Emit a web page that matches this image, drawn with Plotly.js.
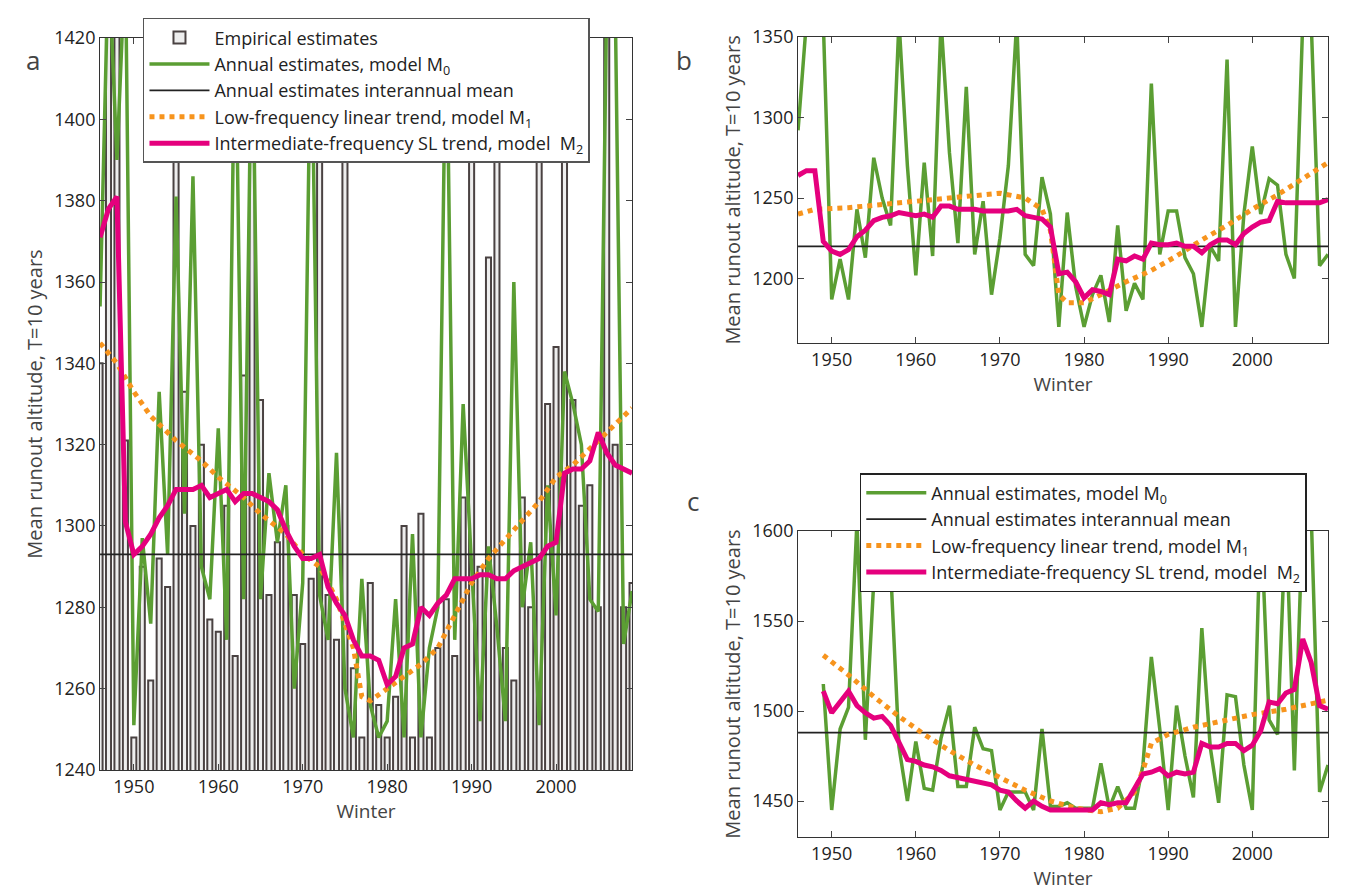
<!DOCTYPE html>
<html>
<head>
<meta charset="utf-8">
<script src="https://cdn.plot.ly/plotly-3.0.1.min.js"></script>
<style>body{margin:0;background:#fff}#myDiv{width:1354px;height:895px}</style>
</head>
<body>
<div id="myDiv"></div>
<script>
var years = [];
for (var y = 1946; y <= 2009; y++) years.push(y);
var yearsC = years.slice(3);

// panel a
var empA = [1340,1430,1430,1321,1248,1290,1262,1292,1285,1390,1333,1300,1320,1277,1274,1305,1268,1337,1430,1331,
  1283,1296,1300,1283,1271,1287,1430,1283,1272,1430,1265,1248,1286,1256,1248,1258,1300,1248,1303,1248,
  1270,1282,1268,1307,1430,1290,1366,1430,1270,1262,1307,1280,1430,1330,1344,1430,1331,1305,1310,1280,
  1430,1320,1280,1286];
var m0A = [1354,1440,1390,1440,1251,1297,1276,1333,1293,1381,1303,1386,1290,1282,1324,1272,1430,1282,1430,1282,
  1313,1296,1310,1260,1286,1430,1283,1272,1318,1260,1248,1287,1256,1248,1252,1282,1248,1298,1248,1270,
  1280,1430,1272,1330,1290,1252,1295,1275,1252,1360,1280,1296,1251,1310,1278,1338,1330,1320,1282,1279,
  1430,1430,1271,1284];
var m2A = [1371,1378,1381,1301,1293,1295,1298,1302,1305,1309,1309,1309,1310,1307,1308,1309,1306,1308,1308,1307,
  1306,1304,1299,1295,1292,1292,1293,1285,1281,1278,1272,1268,1268,1267,1261,1263,1270,1271,1280,1278,
  1281,1283,1287,1287,1287,1288,1288,1287,1287,1289,1290,1291,1292,1295,1296,1313,1314,1314,1316,1323,
  1318,1315,1314,1313];
var m1AYears = [1946,1948,1950,1952,1955,1958,1960,1963,1965,1968,1970,1972,1974,1976,1977,1978,1980,1982,1984,1986,1988,1990,1992,1995,1998,2000,2002,2005,2009];
var m1A = [1345,1340,1333,1327,1321,1316,1312,1307,1303,1298,1293,1290,1282,1270,1258,1257,1260,1263,1266,1270,1278,1286,1292,1299,1306,1312,1315,1321,1329];
var meanA = 1293;

// panel b
var m0B = [1292,1360,1360,1360,1187,1212,1187,1243,1213,1275,1250,1233,1360,1270,1202,1272,1214,1360,1278,1222,
  1319,1215,1248,1190,1225,1270,1360,1215,1208,1263,1240,1170,1241,1195,1170,1190,1202,1173,1233,1180,
  1197,1187,1321,1215,1242,1242,1213,1203,1170,1220,1211,1336,1170,1240,1282,1240,1262,1258,1215,1200,
  1360,1360,1208,1215];
var m2B = [1264,1267,1267,1223,1217,1215,1218,1226,1230,1236,1238,1239,1241,1240,1239,1240,1238,1245,1245,1243,
  1243,1243,1242,1242,1242,1242,1243,1239,1238,1237,1232,1203,1204,1198,1188,1193,1192,1190,1212,1211,
  1214,1212,1222,1221,1221,1222,1220,1220,1216,1221,1224,1224,1221,1228,1232,1235,1236,1248,1247,1247,
  1247,1247,1247,1249];
var m1BYears = [1946,1948,1952,1956,1960,1964,1968,1970,1973,1975,1976,1977,1978,1980,1982,1985,1988,1991,1994,1997,2000,2003,2006,2009];
var m1B = [1240,1243,1244,1246,1248,1250,1252,1253,1250,1243,1230,1190,1185,1185,1190,1198,1205,1214,1224,1233,1243,1252,1262,1272];
var meanB = 1220;

// panel c (1949-2009)
var m0C = [1515,1445,1490,1502,1605,1484,1572,1572,1580,1480,1450,1483,1457,1456,1485,1503,1458,1458,1491,1479,
  1478,1445,1455,1455,1455,1445,1490,1447,1447,1449,1446,1446,1446,1471,1446,1458,1446,1446,1470,1530,
  1490,1445,1503,1475,1452,1546,1480,1449,1509,1508,1470,1445,1610,1495,1487,1610,1467,1610,1610,1455,1470];
var m2C = [1511,1499,1505,1511,1503,1499,1496,1497,1492,1483,1473,1472,1470,1469,1467,1464,1463,1462,1461,1460,
  1459,1456,1455,1450,1446,1450,1447,1445,1445,1445,1445,1445,1445,1449,1448,1449,1449,1457,1465,1466,
  1468,1464,1466,1465,1466,1482,1480,1480,1482,1482,1478,1481,1489,1505,1504,1510,1512,1540,1527,1503,1501];
var m1CYears = [1949,1952,1955,1958,1961,1964,1967,1970,1973,1976,1979,1982,1984,1986,1987,1988,1990,1993,1996,2000,2004,2009];
var m1C = [1531,1520,1508,1497,1487,1478,1470,1463,1456,1450,1446,1444,1446,1455,1467,1482,1487,1491,1494,1498,1501,1506];
var meanC = 1488;

var green = '#5b9e33', orange = '#f7941d', pink = '#e5007d';
var names = ['Empirical estimates', 'Annual estimates, model M<sub>0</sub>', 'Annual estimates interannual mean',
  'Low-frequency linear trend, model M<sub>1</sub>', 'Intermediate-frequency SL trend, model  M<sub>2</sub>'];

function panel(xa, ya, x, m0, m1x, m1, m2, mean, leg, show) {
  return [
    {x: x, y: m0, xaxis: xa, yaxis: ya, type: 'scatter', mode: 'lines', line: {color: green, width: 3.5},
     name: names[1], legend: leg, showlegend: show},
    {x: [1946, 2009], y: [mean, mean], xaxis: xa, yaxis: ya, type: 'scatter', mode: 'lines',
     line: {color: '#222', width: 1.8}, name: names[2], legend: leg, showlegend: show},
    {x: m1x, y: m1, xaxis: xa, yaxis: ya, type: 'scatter', mode: 'lines', line: {color: orange, width: 5, dash: 'dot'},
     name: names[3], legend: leg, showlegend: show},
    {x: x, y: m2, xaxis: xa, yaxis: ya, type: 'scatter', mode: 'lines', line: {color: pink, width: 5},
     name: names[4], legend: leg, showlegend: show}
  ];
}

var data = [{x: years, y: empA, type: 'bar', width: 0.6, base: 0, marker: {color: '#eeeeee', line: {color: '#4a4242', width: 2}},
  name: names[0], xaxis: 'x', yaxis: 'y', legend: 'legend'}];
data = data.concat(panel('x', 'y', years, m0A, m1AYears, m1A, m2A, meanA, 'legend', true));
data = data.concat(panel('x2', 'y2', years, m0B, m1BYears, m1B, m2B, meanB, 'legend', false));
data = data.concat(panel('x3', 'y3', yearsC, m0C, m1CYears, m1C, m2C, meanC, 'legend2', true));

var font = {family: 'Open Sans, sans-serif', size: 18, color: '#222'};
function xax(anchor, dom) {
  return {domain: dom, anchor: anchor, range: [1946, 2009], tickvals: [1950,1960,1970,1980,1990,2000],
    ticks: 'inside', ticklen: 6, showline: true, linecolor: '#333', mirror: 'ticks', showgrid: false,
    zeroline: false, tickfont: font, title: {text: 'Winter', font: {family: font.family, size: 19}, standoff: 2}};
}
function yax(anchor, dom, range, vals) {
  return {domain: dom, anchor: anchor, range: range, tickvals: vals,
    ticks: 'inside', ticklen: 6, showline: true, linecolor: '#333', mirror: 'ticks', showgrid: false,
    zeroline: false, tickfont: font, title: {text: 'Mean runout altitude, T=10 years', font: {family: font.family, size: 20}, standoff: 6}};
}

var layout = {
  width: 1354, height: 895, margin: {l: 0, r: 0, t: 0, b: 0},
  paper_bgcolor: '#fff', plot_bgcolor: '#fff', barmode: 'overlay',
  xaxis: xax('y', [0.0739, 0.4668]),
  yaxis: yax('x', [0.1397, 0.9575], [1240, 1420], [1240,1260,1280,1300,1320,1340,1360,1380,1400,1420]),
  xaxis2: xax('y2', [0.5894, 0.9808]),
  yaxis2: yax('x2', [0.6168, 0.9587], [1160, 1350], [1200,1250,1300,1350]),
  xaxis3: xax('y3', [0.5894, 0.9808]),
  yaxis3: yax('x3', [0.0648, 0.4067], [1430, 1600], [1450,1500,1550,1600]),
  legend: {x: 0.1056, y: 0.98, xanchor: 'left', yanchor: 'top', bgcolor: '#fff', bordercolor: '#555', borderwidth: 1.5,
    font: {family: font.family, size: 18, color: '#222'}, tracegroupgap: 0, itemwidth: 60},
  legend2: {x: 0.635, y: 0.4715, xanchor: 'left', yanchor: 'top', bgcolor: '#fff', bordercolor: '#222', borderwidth: 1.5,
    font: {family: font.family, size: 18, color: '#222'}, tracegroupgap: 0, itemwidth: 60},
  annotations: [
    {text: 'a', x: 0.018, y: 0.955, xref: 'paper', yref: 'paper', showarrow: false, font: {family: font.family, size: 26}},
    {text: 'b', x: 0.505, y: 0.955, xref: 'paper', yref: 'paper', showarrow: false, font: {family: font.family, size: 26}},
    {text: 'c', x: 0.512, y: 0.44, xref: 'paper', yref: 'paper', showarrow: false, font: {family: font.family, size: 26}}
  ]
};

Plotly.newPlot('myDiv', data, layout, {displayModeBar: false});
</script>
</body>
</html>
